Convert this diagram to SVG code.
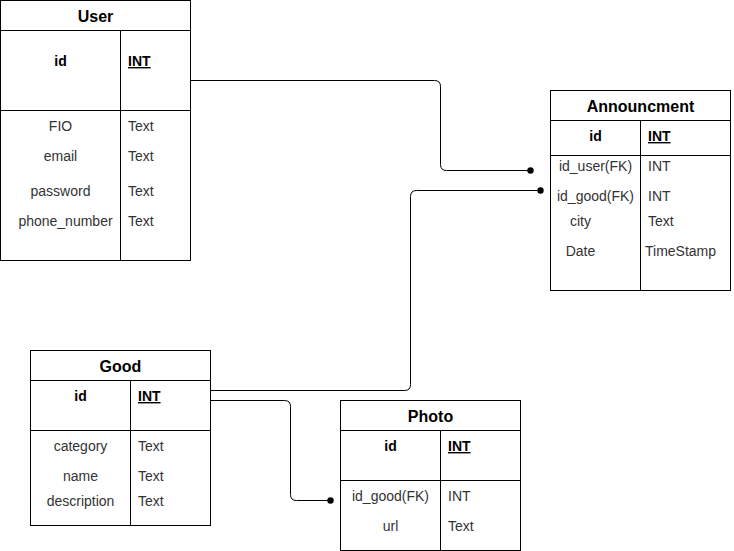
<svg xmlns="http://www.w3.org/2000/svg" width="734" height="551" viewBox="0 0 734 551">
<style>
.box{fill:#fff;stroke:#000;stroke-width:1}
.ln{stroke:#000;stroke-width:1;fill:none}
.t{font-family:"Liberation Sans",Arial,sans-serif;font-size:14px;fill:#333}
.h{font-family:"Liberation Sans",Arial,sans-serif;font-size:16px;font-weight:bold;fill:#000}
.b{font-family:"Liberation Sans",Arial,sans-serif;font-size:14px;font-weight:bold;fill:#000}
.c{text-anchor:middle}
.u{text-decoration:underline}
.edge{stroke:#000;stroke-width:1;fill:none}
</style>
<rect width="734" height="551" fill="#fff"/>
<g id="connectors">
<path class="edge" d="M190.5,80.5 H434.5 Q440.5,80.5 440.5,86.5 V164.5 Q440.5,170.5 446.5,170.5 H530"/>
<circle cx="530.5" cy="170.5" r="3.2"/>
<path class="edge" d="M210.5,390.5 H404.5 Q410.5,390.5 410.5,384.5 V196.5 Q410.5,190.5 416.5,190.5 H540"/>
<circle cx="540.5" cy="190.5" r="3.2"/>
<path class="edge" d="M210.5,400.5 H284.5 Q290.5,400.5 290.5,406.5 V494.5 Q290.5,500.5 296.5,500.5 H330"/>
<circle cx="330.5" cy="500.5" r="3.2"/>
</g>
<g id="user">
<rect class="box" x="0.5" y="0.5" width="190" height="260"/>
<path class="ln" d="M0.5,30.5 H190.5 M0.5,110.5 H190.5 M120.5,30.5 V260.5"/>
<text class="h c" x="95.5" y="21.5">User</text>
<text class="b c" x="60.5" y="66">id</text>
<text class="b u" x="128" y="66">INT</text>
<text class="t c" x="60.5" y="131">FIO</text>
<text class="t" x="128" y="131">Text</text>
<text class="t c" x="60.5" y="161">email</text>
<text class="t" x="128" y="161">Text</text>
<text class="t c" x="60.5" y="196">password</text>
<text class="t" x="128" y="196">Text</text>
<text class="t c" x="65.5" y="226">phone_number</text>
<text class="t" x="128" y="226">Text</text>
</g>
<g id="announcment">
<rect class="box" x="550.5" y="90.5" width="180" height="200"/>
<path class="ln" d="M550.5,120.5 H730.5 M550.5,155.5 H730.5 M640.5,120.5 V290.5"/>
<text class="h c" x="640.5" y="111.5">Announcment</text>
<text class="b c" x="595.5" y="141">id</text>
<text class="b u" x="648" y="141">INT</text>
<text class="t c" x="595.5" y="171">id_user(FK)</text>
<text class="t" x="648" y="171">INT</text>
<text class="t c" x="595.5" y="201">id_good(FK)</text>
<text class="t" x="648" y="201">INT</text>
<text class="t c" x="580.5" y="226">city</text>
<text class="t" x="648" y="226">Text</text>
<text class="t c" x="580.5" y="256">Date</text>
<text class="t" x="645" y="256">TimeStamp</text>
</g>
<g id="good">
<rect class="box" x="30.5" y="350.5" width="180" height="175"/>
<path class="ln" d="M30.5,380.5 H210.5 M30.5,430.5 H210.5 M130.5,380.5 V525.5"/>
<text class="h c" x="120.5" y="371.5">Good</text>
<text class="b c" x="80.5" y="401">id</text>
<text class="b u" x="138" y="401">INT</text>
<text class="t c" x="80.5" y="451">category</text>
<text class="t" x="138" y="451">Text</text>
<text class="t c" x="80.5" y="481">name</text>
<text class="t" x="138" y="481">Text</text>
<text class="t c" x="80.5" y="506">description</text>
<text class="t" x="138" y="506">Text</text>
</g>
<g id="photo">
<rect class="box" x="340.5" y="400.5" width="180" height="150"/>
<path class="ln" d="M340.5,430.5 H520.5 M340.5,480.5 H520.5 M440.5,430.5 V550.5"/>
<text class="h c" x="430.5" y="421.5">Photo</text>
<text class="b c" x="390.5" y="451">id</text>
<text class="b u" x="448" y="451">INT</text>
<text class="t c" x="390.5" y="501">id_good(FK)</text>
<text class="t" x="448" y="501">INT</text>
<text class="t c" x="390.5" y="531">url</text>
<text class="t" x="448" y="531">Text</text>
</g>
</svg>
